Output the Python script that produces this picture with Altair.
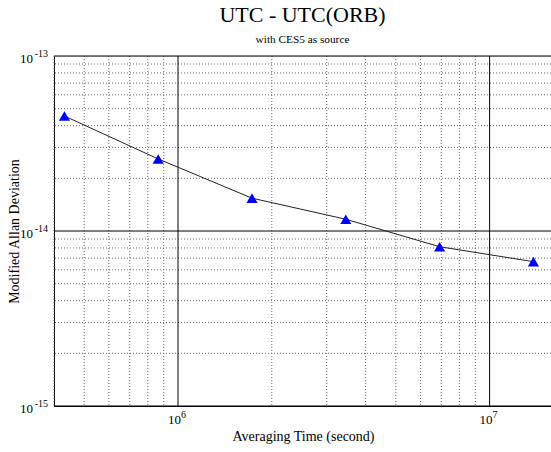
import altair as alt
import pandas as pd

# ---- data ----
tau = [432000, 864000, 1728000, 3456000, 6912000, 13824000]
mdev = [4.54e-14, 2.58e-14, 1.54e-14, 1.167e-14, 8.13e-15, 6.68e-15]

x_major = [1e6, 1e7]
x_minor = [4e5, 5e5, 6e5, 7e5, 8e5, 9e5,
           2e6, 3e6, 4e6, 5e6, 6e6, 7e6, 8e6, 9e6]
y_major = [1e-13, 1e-14, 1e-15]
y_minor = [2e-14, 3e-14, 4e-14, 5e-14, 6e-14, 7e-14, 8e-14, 9e-14,
           2e-15, 3e-15, 4e-15, 5e-15, 6e-15, 7e-15, 8e-15, 9e-15]
tick_base = "10"
x_tick_exponents = ["6", "7"]
y_tick_exponents = ["-13", "-14", "-15"]

XMIN, XMAX = 4e5, 1.574e7
YMIN, YMAX = 1e-15, 1e-13
FONT = "Liberation Serif"

df = pd.DataFrame({"tau": tau, "mdev": mdev})

xs = alt.Scale(type="log", domain=[XMIN, XMAX], nice=False)
ys = alt.Scale(type="log", domain=[YMIN, YMAX], nice=False)

x_axis = alt.Axis(values=x_major, labels=False, grid=False, ticks=False,
                  domainColor="black", domainWidth=1,
                  title="Averaging Time (second)", titleFont=FONT, titleFontSize=14,
                  titleFontWeight="normal", titleColor="black",
                  titleX=249, titleY=34, titleAlign="center", titleBaseline="alphabetic")
y_axis = alt.Axis(values=y_major, labels=False, grid=False, ticks=False,
                  domainColor="black", domainWidth=1,
                  title="Modified Allan Deviation", titleFont=FONT, titleFontSize=14,
                  titleFontWeight="normal", titleColor="black",
                  titleX=-36, titleY=175, titleAlign="center", titleBaseline="alphabetic",
                  titleAngle=270)

xminor_df = pd.DataFrame({"tau": x_minor})
yminor_df = pd.DataFrame({"mdev": y_minor})
xmajor_df = pd.DataFrame({"tau": x_major})
ymajor_df = pd.DataFrame({"mdev": y_major})

# tick-label tables (positions come from the scales)
xlab_df = pd.DataFrame({"tau": x_major, "mdev": [YMIN] * len(x_major),
                        "base": [tick_base] * len(x_major), "exp": x_tick_exponents})
ylab_df = pd.DataFrame({"tau": [XMIN] * len(y_major), "mdev": y_major,
                        "base": [tick_base] * len(y_major), "exp": y_tick_exponents})

X = alt.X("tau:Q", scale=xs, axis=x_axis)
Y = alt.Y("mdev:Q", scale=ys, axis=y_axis)

minor_v = alt.Chart(xminor_df).mark_rule(color="#666666", strokeWidth=1, strokeDash=[1, 2]).encode(x=X)
minor_h = alt.Chart(yminor_df).mark_rule(color="#666666", strokeWidth=1, strokeDash=[1, 2]).encode(y=Y)
major_v = alt.Chart(xmajor_df).mark_rule(color="black", strokeWidth=1).encode(x=X)
major_h = alt.Chart(ymajor_df).mark_rule(color="black", strokeWidth=1).encode(y=Y)

line = alt.Chart(df).mark_line(color="#222222", strokeWidth=1).encode(x=X, y=Y)
points = alt.Chart(df).mark_point(shape="triangle-up", filled=True, color="#0000ff",
                                  opacity=1, size=125).encode(x=X, y=Y)

xlab_base = alt.Chart(xlab_df).mark_text(font=FONT, fontSize=13, color="black", align="right",
                                         baseline="alphabetic", dx=3, dy=18).encode(
    x=X, y=Y, text="base:N")
xlab_exp = alt.Chart(xlab_df).mark_text(font=FONT, fontSize=10, color="black", align="left",
                                        baseline="alphabetic", dx=3, dy=12).encode(
    x=X, y=Y, text="exp:N")
ylab_base = alt.Chart(ylab_df).mark_text(font=FONT, fontSize=13, color="black", align="right",
                                         baseline="alphabetic", dx=-21, dy=7).encode(
    x=X, y=Y, text="base:N")
ylab_exp = alt.Chart(ylab_df).mark_text(font=FONT, fontSize=10, color="black", align="right",
                                        baseline="alphabetic", dx=-6, dy=1).encode(
    x=X, y=Y, text="exp:N")

chart = alt.layer(minor_v, minor_h, major_v, major_h, line, points,
                  xlab_base, xlab_exp, ylab_base, ylab_exp).properties(
    width=497,
    height=350,
    title=alt.TitleParams("UTC - UTC(ORB)", subtitle="with CES5 as source",
                          font=FONT, fontSize=22, fontWeight="normal", color="black",
                          subtitleFont=FONT, subtitleFontSize=11.3, subtitleColor="black",
                          anchor="middle", offset=3, subtitlePadding=7),
    autosize=alt.AutoSizeParams(type="none"),
    padding={"left": 54, "top": 56, "right": 0, "bottom": 46},
).configure_view(stroke=None).configure(background="white")

chart.save("out.html", embed_options={"renderer": "svg", "actions": False})
